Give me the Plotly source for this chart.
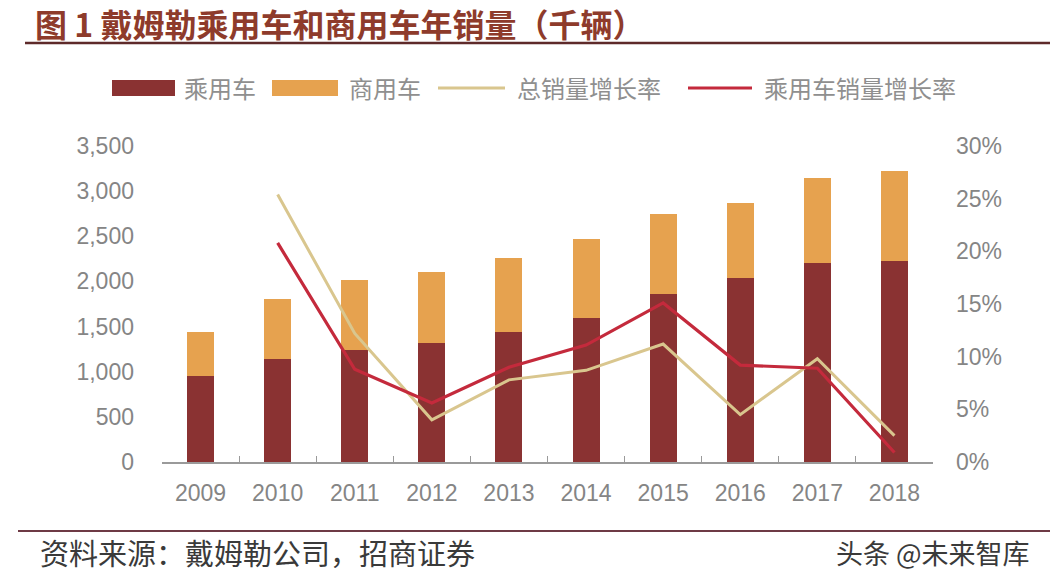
import plotly.graph_objects as go

years = ["2009", "2010", "2011", "2012", "2013", "2014", "2015", "2016", "2017", "2018"]
passenger = [950, 1140, 1240, 1318, 1440, 1595, 1860, 2037, 2204, 2226]
commercial = [490, 665, 775, 786, 819, 875, 886, 831, 941, 996]
total_growth_years = ["2010", "2011", "2012", "2013", "2014", "2015", "2016", "2017", "2018"]
total_growth = [25.4, 12.2, 4.0, 7.8, 8.7, 11.2, 4.5, 9.8, 2.5]
passenger_growth = [20.8, 8.8, 5.6, 9.0, 11.1, 15.1, 9.2, 8.9, 0.9]

left_ticks = [0, 500, 1000, 1500, 2000, 2500, 3000, 3500]
right_ticks = [0, 5, 10, 15, 20, 25, 30]
right_labels = ["0%", "5%", "10%", "15%", "20%", "25%", "30%"]

C_PASS = "#8A3232"
C_COMM = "#E6A24F"
C_TOT = "#D9C68E"
C_PG = "#C42A3C"
GRAY = "#858585"
CJK = "Noto Sans CJK SC"
NUM = "Liberation Sans, Arial, sans-serif"

W, H = 1050, 584
L, R, T, B = 162, 117, 146, 122
PW, PH = W - L - R, H - T - B


def px(x):
    return (x - L) / PW


def py(y):
    return (H - B - y) / PH


fig = go.Figure()
fig.add_bar(x=years, y=passenger, name="乘用车", marker_color=C_PASS, marker_line_width=0)
fig.add_bar(x=years, y=commercial, name="商用车", marker_color=C_COMM, marker_line_width=0)
fig.add_scatter(x=total_growth_years, y=total_growth, name="总销量增长率", yaxis="y2",
                mode="lines", line=dict(color=C_TOT, width=3))
fig.add_scatter(x=total_growth_years, y=passenger_growth, name="乘用车销量增长率", yaxis="y2",
                mode="lines", line=dict(color=C_PG, width=3.2))

shapes = []
annotations = []

# title & rule
annotations.append(dict(text="<b>图 1 戴姆勒乘用车和商用车年销量（千辆）</b>", x=px(34), y=py(23),
                        xref="paper", yref="paper", xanchor="left", yanchor="middle", showarrow=False,
                        font=dict(family=CJK, size=32, color="#8E3B2B"), borderpad=0))
shapes.append(dict(type="line", xref="paper", yref="paper", x0=px(25), x1=px(1050), y0=py(43), y1=py(43),
                   line=dict(color="#5E2A2A", width=2.5)))

# legend
leg_y = 88
items = [
    ("rect", C_PASS, 112, 175, 182, "乘用车"),
    ("rect", C_COMM, 272, 338, 347, "商用车"),
    ("line", C_TOT, 438, 505, 515, "总销量增长率"),
    ("line", C_PG, 688, 752, 762, "乘用车销量增长率"),
]
for kind, col, x0, x1, tx, label in items:
    if kind == "rect":
        shapes.append(dict(type="rect", xref="paper", yref="paper", x0=px(x0), x1=px(x1),
                           y0=py(leg_y + 8), y1=py(leg_y - 8), fillcolor=col, line=dict(width=0)))
    else:
        shapes.append(dict(type="line", xref="paper", yref="paper", x0=px(x0), x1=px(x1),
                           y0=py(leg_y), y1=py(leg_y), line=dict(color=col, width=3)))
    annotations.append(dict(text=label, x=px(tx), y=py(leg_y), xref="paper", yref="paper",
                            xanchor="left", yanchor="middle", showarrow=False,
                            font=dict(family=CJK, size=24, color="#8F8F8F")))

# footer
shapes.append(dict(type="line", xref="paper", yref="paper", x0=px(18), x1=px(1050), y0=py(531), y1=py(531),
                   line=dict(color="#6E3A45", width=2)))
annotations.append(dict(text="资料来源：戴姆勒公司，招商证券", x=px(38), y=py(552), xref="paper", yref="paper",
                        xanchor="left", yanchor="middle", showarrow=False,
                        font=dict(family=CJK, size=29, color="#3A3A3A")))
annotations.append(dict(text="头条 @未来智库", x=px(1032), y=py(552), xref="paper", yref="paper",
                        xanchor="right", yanchor="middle", showarrow=False,
                        font=dict(family=CJK, size=27, color="#3A3A3A")))

fig.update_layout(
    width=W, height=H,
    margin=dict(l=L, r=R, t=T, b=B, pad=0),
    paper_bgcolor="white", plot_bgcolor="white",
    barmode="stack", bargap=0.65,
    showlegend=False,
    shapes=shapes, annotations=annotations,
    xaxis=dict(type="category", range=[-0.5, 9.5], showline=True, linecolor="#9A9A9A", linewidth=1.5,
               ticks="inside", tickson="boundaries", ticklen=6, tickcolor="#9A9A9A", tickwidth=1.2,
               showgrid=False, tickfont=dict(family=NUM, size=23, color=GRAY), ticklabelstandoff=10),
    yaxis=dict(range=[0, 3500], tickvals=left_ticks, tickformat=",", showgrid=False, zeroline=False,
               showline=False, ticks="", tickfont=dict(family=NUM, size=23, color=GRAY),
               ticklabelstandoff=27),
    yaxis2=dict(range=[0, 30], tickvals=right_ticks, ticktext=right_labels, overlaying="y", side="right",
                showgrid=False, zeroline=False, showline=False, ticks="",
                tickfont=dict(family=NUM, size=23, color=GRAY), ticklabelstandoff=22),
)

fig.write_html("out.html", config={"displayModeBar": False},
               post_script="document.body.style.margin='0';document.body.style.padding='0';")
